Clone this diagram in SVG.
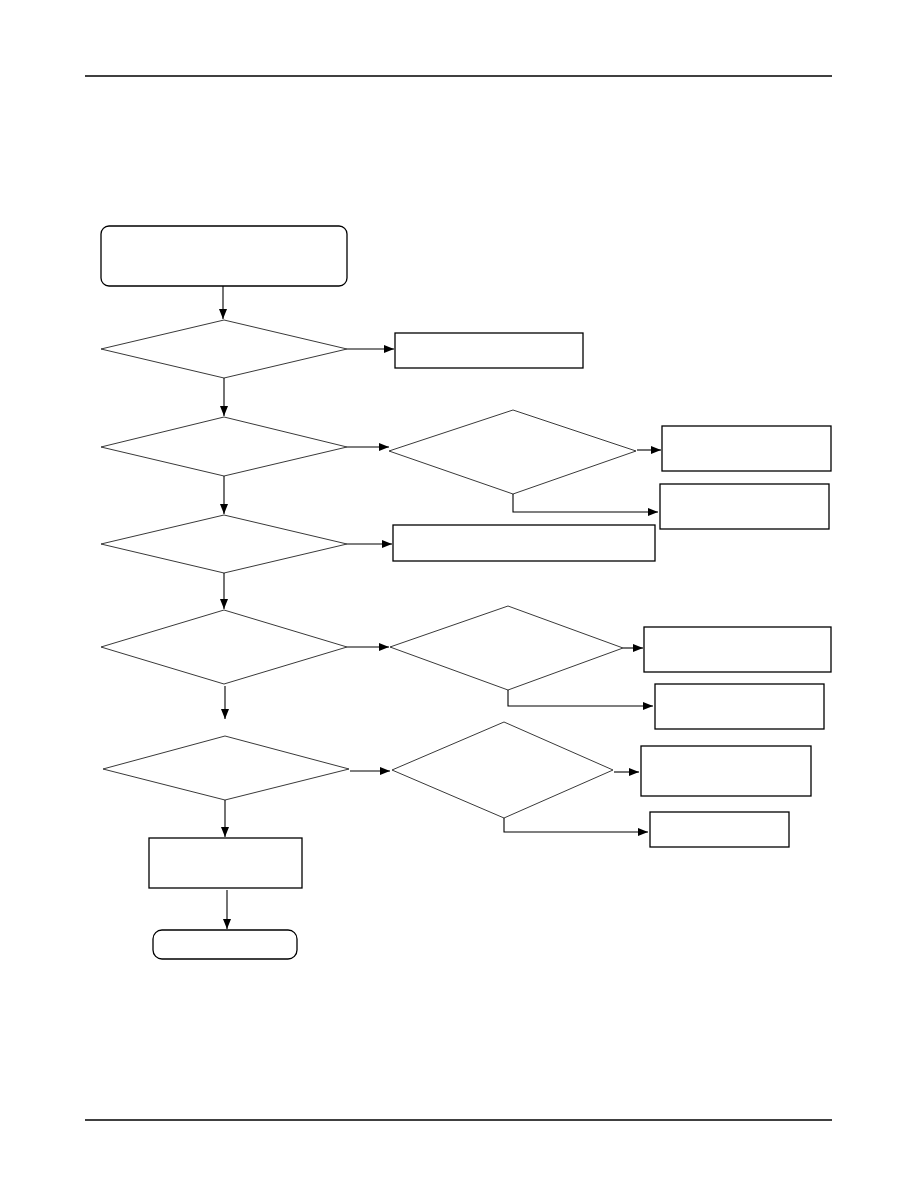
<svg xmlns="http://www.w3.org/2000/svg" width="918" height="1188" viewBox="0 0 918 1188">
<style>
.rule{stroke:#000;stroke-width:1.5;fill:none}
.box{fill:#fff;stroke:#000;stroke-width:1.3}
.dia{fill:#fff;stroke:#222;stroke-width:0.9}
.con{fill:none;stroke:#000;stroke-width:1.1;marker-end:url(#ah)}
.seg{fill:none;stroke:#000;stroke-width:1.1}
</style>
<defs>
<marker id="ah" viewBox="0 0 10 8" refX="10" refY="4" markerWidth="10" markerHeight="8" markerUnits="userSpaceOnUse" orient="auto">
<path d="M0,0 L10,4 L0,8 z" fill="#000"/>
</marker>
</defs>
<rect width="918" height="1188" fill="#fff"/>
<line class="rule" x1="85" y1="76" x2="832" y2="76"/>
<line class="rule" x1="85" y1="1120" x2="832" y2="1120"/>

<g id="start"><rect class="box" x="101" y="226" width="246" height="60" rx="8"/></g>
<g id="d1"><polygon class="dia" points="224,320 347,349 224,378 101,349"/></g>
<g id="b1"><rect class="box" x="395" y="333" width="188" height="35"/></g>
<g id="d2"><polygon class="dia" points="224,417 347,447 224,476 101,447"/></g>
<g id="d3"><polygon class="dia" points="513,410 636,451 513,494 389,451"/></g>
<g id="b2"><rect class="box" x="662" y="426" width="169" height="45"/></g>
<g id="b3"><rect class="box" x="660" y="484" width="169" height="45"/></g>
<g id="d4"><polygon class="dia" points="224,515 347,544 224,573 101,544"/></g>
<g id="b4"><rect class="box" x="393" y="525" width="262" height="36"/></g>
<g id="d5"><polygon class="dia" points="224,610 347,647 224,684 101,647"/></g>
<g id="d6"><polygon class="dia" points="508,606 623,648 508,690 390,647"/></g>
<g id="b5"><rect class="box" x="644" y="627" width="187" height="45"/></g>
<g id="b6"><rect class="box" x="655" y="684" width="169" height="45"/></g>
<g id="d7"><polygon class="dia" points="225,736 349,769 225,800 103,769"/></g>
<g id="d8"><polygon class="dia" points="504,722 613,770 504,818 392,770"/></g>
<g id="b7"><rect class="box" x="641" y="746" width="170" height="50"/></g>
<g id="b8"><rect class="box" x="650" y="812" width="139" height="35"/></g>
<g id="b9"><rect class="box" x="149" y="838" width="153" height="50"/></g>
<g id="end"><rect class="box" x="153" y="930" width="144" height="29" rx="9"/></g>

<g id="connectors">
<line class="con" x1="223" y1="286" x2="223" y2="319"/>
<line class="con" x1="347" y1="349" x2="394" y2="349"/>
<line class="con" x1="224" y1="378" x2="224" y2="416"/>
<line class="con" x1="347" y1="447" x2="389" y2="447"/>
<line class="con" x1="637" y1="450" x2="661" y2="450"/>
<polyline class="con" points="513,494 513,512 658,512"/>
<line class="con" x1="224" y1="476" x2="224" y2="514"/>
<line class="con" x1="347" y1="544" x2="392" y2="544"/>
<line class="con" x1="224" y1="573" x2="224" y2="609"/>
<line class="con" x1="347" y1="647" x2="389" y2="647"/>
<line class="con" x1="623" y1="648" x2="643" y2="648"/>
<polyline class="con" points="508,690 508,706 653,706"/>
<line class="con" x1="225" y1="686" x2="225" y2="719"/>
<line class="con" x1="350" y1="771" x2="390" y2="771"/>
<line class="con" x1="614" y1="772" x2="639" y2="772"/>
<polyline class="con" points="504,818 504,832 648,832"/>
<line class="con" x1="225" y1="800" x2="225" y2="837"/>
<line class="con" x1="227" y1="890" x2="227" y2="929"/>
</g>
</svg>
